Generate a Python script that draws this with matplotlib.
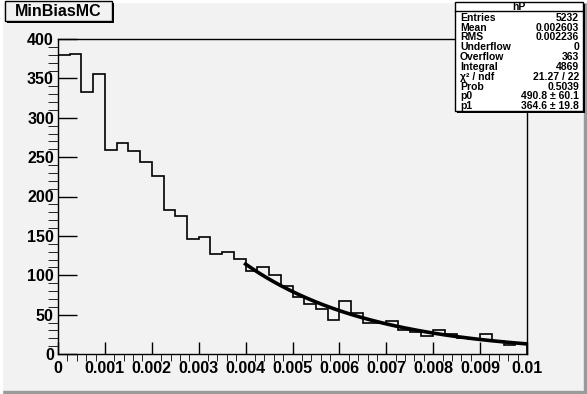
import numpy as np
import matplotlib
matplotlib.use('Agg')
from matplotlib import pyplot as plt
from matplotlib.patches import Rectangle

#bin contents of histogram hP (40 bins from 0 to 0.01)
counts = [380, 381, 333, 356, 259, 268, 258, 244, 226, 183,
          175, 146, 148, 127, 130, 121, 105, 110, 100, 86,
          72, 64, 57, 43, 67, 52, 39, 39, 42, 31,
          28, 23, 31, 26, 20, 19, 26, 16, 11, 14]
xmin = 0.0
xmax = 0.01
#fit result p0*exp(-p1*x) on 0.004..0.01
p0 = 490.8
p1 = 364.6
fit_lo = 0.004
fit_hi = 0.01
#stats box entries
stat_names = ['Entries', 'Mean', 'RMS', 'Underflow', 'Overflow', 'Integral',
              'χ² / ndf', 'Prob', 'p0', 'p1']
stat_values = ['5232', '0.002603', '0.002236', '0', '363', '4869',
               '21.27 / 22', '0.5039', '490.8 ± 60.1', '364.6 ± 19.8']
xticks = [0, 0.001, 0.002, 0.003, 0.004, 0.005, 0.006, 0.007, 0.008, 0.009, 0.01]
xtick_labels = ['0', '0.001', '0.002', '0.003', '0.004', '0.005', '0.006',
                '0.007', '0.008', '0.009', '0.01']
yticks = [0, 50, 100, 150, 200, 250, 300, 350, 400]

bg = '#f2f2f2'
plt.rcParams['font.family'] = ['Liberation Sans', 'DejaVu Sans']
plt.rcParams['font.weight'] = 'bold'

W, H = 587, 394
fig = plt.figure(figsize=(W / 100, H / 100), dpi=100, facecolor=bg)

#canvas bevel: light top/left, dark bottom/right
fig.patches.append(Rectangle((0, 0), 1, 3 / H, transform=fig.transFigure,
                             color='#9a9a9a', zorder=0))
fig.patches.append(Rectangle((1 - 3 / W, 0), 3 / W, 1, transform=fig.transFigure,
                             color='#9a9a9a', zorder=0))
fig.patches.append(Rectangle((0, 1 - 2 / H), 1, 2 / H, transform=fig.transFigure,
                             color='#ffffff', zorder=0))
fig.patches.append(Rectangle((0, 0), 2 / W, 1, transform=fig.transFigure,
                             color='#ffffff', zorder=0))

#main frame
ax = fig.add_axes([58 / W, 1 - 354 / H, (527 - 58) / W, (354 - 39) / H])
ax.set_facecolor(bg)
edges = np.linspace(xmin, xmax, len(counts) + 1)
ax.stairs(counts, edges, color='black', linewidth=1.2)

#fitted exponential
xf = np.linspace(fit_lo, fit_hi, 200)
ax.plot(xf, p0 * np.exp(-p1 * xf), color='black', linewidth=2.6)

ax.set_xlim(xmin, xmax)
ax.set_ylim(0, 400)
ax.set_xticks(xticks)
ax.set_xticklabels(xtick_labels)
ax.set_yticks(yticks)
ax.set_xticks(np.arange(0, 0.01001, 0.0002), minor=True)
ax.set_yticks(np.arange(0, 401, 10), minor=True)
ax.tick_params(axis='both', direction='in', labelsize=11.5, width=1)
ax.tick_params(axis='x', which='major', length=9, pad=5)
ax.tick_params(axis='x', which='minor', length=5)
ax.tick_params(axis='y', which='major', length=14, pad=3)
ax.tick_params(axis='y', which='minor', length=7)
for lab in ax.get_xticklabels() + ax.get_yticklabels():
    lab.set_fontweight('bold')
for s in ax.spines.values():
    s.set_linewidth(1)

#title box
fig.patches.append(Rectangle((7 / W, 1 - 23 / H), 107 / W, 20 / H,
                             transform=fig.transFigure, facecolor='black',
                             edgecolor='none', zorder=3))
fig.patches.append(Rectangle((5 / W, 1 - 21 / H), 107 / W, 20 / H,
                             transform=fig.transFigure, facecolor=bg,
                             edgecolor='black', linewidth=1, zorder=4))
fig.text(58.5 / W, 1 - 11.5 / H, 'MinBiasMC', ha='center', va='center',
         fontsize=11.5, fontweight='bold', zorder=5)

#stats box
bx0, bx1 = 455, 583
by0, by1 = 2, 111
fig.patches.append(Rectangle(((bx0 + 2) / W, 1 - (by1 + 2) / H), (bx1 - bx0) / W,
                             (by1 - by0) / H, transform=fig.transFigure,
                             facecolor='black', edgecolor='none', zorder=3))
fig.patches.append(Rectangle((bx0 / W, 1 - by1 / H), (bx1 - bx0) / W,
                             (by1 - by0) / H, transform=fig.transFigure,
                             facecolor='white', edgecolor='black',
                             linewidth=1, zorder=4))
fig.lines.append(plt.Line2D([bx0 / W, bx1 / W], [1 - 11 / H, 1 - 11 / H],
                            transform=fig.transFigure, color='black',
                            linewidth=1, zorder=5))
fig.text((bx0 + bx1) / 2 / W, 1 - 6.5 / H, 'hP', ha='center', va='center',
         fontsize=7.5, fontweight='bold', zorder=6)
row_h = (by1 - 13) / len(stat_names)
for i in range(len(stat_names)):
    yy = 1 - (13 + row_h * (i + 0.5)) / H
    fig.text((bx0 + 5) / W, yy, stat_names[i], ha='left', va='center',
             fontsize=7.5, fontweight='bold', zorder=6)
    fig.text((bx1 - 4) / W, yy, stat_values[i], ha='right', va='center',
             fontsize=7.5, fontweight='bold', zorder=6)

fig.savefig('out.png', dpi=100, facecolor=bg)
